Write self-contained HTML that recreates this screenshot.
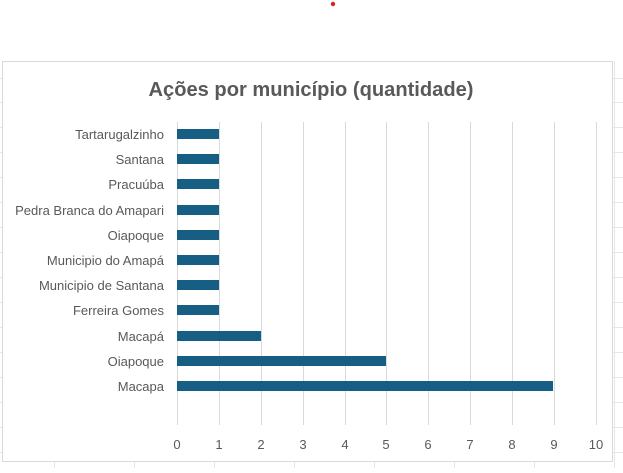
<!DOCTYPE html>
<html><head><meta charset="utf-8"><style>
body{margin:0;width:623px;height:468px;background:#fff;overflow:hidden;font-family:"Liberation Sans",sans-serif}
</style></head><body>
<svg width="623" height="468" xmlns="http://www.w3.org/2000/svg" font-family="Liberation Sans, sans-serif">
<g stroke="#e6e6e6" stroke-width="1">
<line x1="54.5" y1="61" x2="54.5" y2="468"/><line x1="134.5" y1="61" x2="134.5" y2="468"/><line x1="214.5" y1="61" x2="214.5" y2="468"/><line x1="294.5" y1="61" x2="294.5" y2="468"/><line x1="374.5" y1="61" x2="374.5" y2="468"/><line x1="454.5" y1="61" x2="454.5" y2="468"/><line x1="534.5" y1="61" x2="534.5" y2="468"/><line x1="614.5" y1="61" x2="614.5" y2="468"/>
<line x1="0" y1="78.5" x2="623" y2="78.5"/><line x1="0" y1="102.5" x2="623" y2="102.5"/><line x1="0" y1="127.5" x2="623" y2="127.5"/><line x1="0" y1="152.5" x2="623" y2="152.5"/><line x1="0" y1="177.5" x2="623" y2="177.5"/><line x1="0" y1="202.5" x2="623" y2="202.5"/><line x1="0" y1="227.5" x2="623" y2="227.5"/><line x1="0" y1="252.5" x2="623" y2="252.5"/><line x1="0" y1="277.5" x2="623" y2="277.5"/><line x1="0" y1="302.5" x2="623" y2="302.5"/><line x1="0" y1="327.5" x2="623" y2="327.5"/><line x1="0" y1="352.5" x2="623" y2="352.5"/><line x1="0" y1="377.5" x2="623" y2="377.5"/><line x1="0" y1="402.5" x2="623" y2="402.5"/><line x1="0" y1="427.5" x2="623" y2="427.5"/><line x1="0" y1="452.5" x2="623" y2="452.5"/>
</g>
<rect x="2.5" y="61.5" width="610" height="400" fill="#fff" stroke="#d9d9d9"/>
<circle cx="333" cy="4" r="2.2" fill="#e0201c"/>
<text x="311" y="96" text-anchor="middle" font-size="20" font-weight="bold" fill="#595959" textLength="325" lengthAdjust="spacingAndGlyphs">Ações por município (quantidade)</text>
<g stroke="#d9d9d9" stroke-width="1">
<line x1="177.5" y1="122" x2="177.5" y2="425"/><line x1="219.5" y1="122" x2="219.5" y2="425"/><line x1="261.5" y1="122" x2="261.5" y2="425"/><line x1="303.5" y1="122" x2="303.5" y2="425"/><line x1="345.5" y1="122" x2="345.5" y2="425"/><line x1="386.5" y1="122" x2="386.5" y2="425"/><line x1="428.5" y1="122" x2="428.5" y2="425"/><line x1="470.5" y1="122" x2="470.5" y2="425"/><line x1="512.5" y1="122" x2="512.5" y2="425"/><line x1="554.5" y1="122" x2="554.5" y2="425"/><line x1="596.5" y1="122" x2="596.5" y2="425"/>
</g>
<g fill="#165e83">
<rect x="177" y="129" width="42" height="10"/><rect x="177" y="154" width="42" height="10"/><rect x="177" y="179" width="42" height="10"/><rect x="177" y="205" width="42" height="10"/><rect x="177" y="230" width="42" height="10"/><rect x="177" y="255" width="42" height="10"/><rect x="177" y="280" width="42" height="10"/><rect x="177" y="305" width="42" height="10"/><rect x="177" y="331" width="84" height="10"/><rect x="177" y="356" width="209" height="10"/><rect x="177" y="381" width="376" height="10"/>
</g>
<g font-size="13" fill="#595959" text-anchor="end">
<text x="164" y="139">Tartarugalzinho</text><text x="164" y="164">Santana</text><text x="164" y="189">Pracuúba</text><text x="164" y="215">Pedra Branca do Amapari</text><text x="164" y="240">Oiapoque</text><text x="164" y="265">Municipio do Amapá</text><text x="164" y="290">Municipio de Santana</text><text x="164" y="315">Ferreira Gomes</text><text x="164" y="341">Macapá</text><text x="164" y="366">Oiapoque</text><text x="164" y="391">Macapa</text>
</g>
<g font-size="13" fill="#595959" text-anchor="middle">
<text x="177" y="449">0</text><text x="219" y="449">1</text><text x="261" y="449">2</text><text x="303" y="449">3</text><text x="345" y="449">4</text><text x="386" y="449">5</text><text x="428" y="449">6</text><text x="470" y="449">7</text><text x="512" y="449">8</text><text x="554" y="449">9</text><text x="596" y="449">10</text>
</g>
</svg>
</body></html>
